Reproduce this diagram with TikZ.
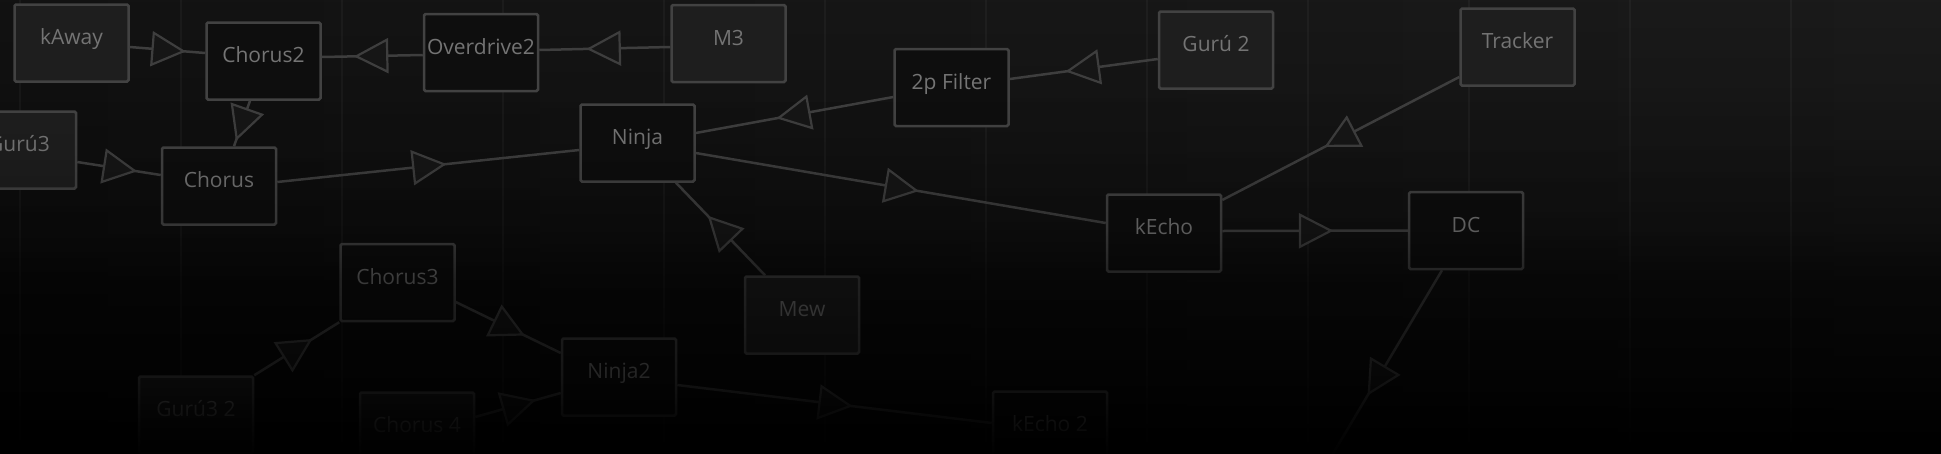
\documentclass[tikz,border=0pt]{standalone}
\usepackage{fontspec}
\setmainfont{Open Sans}
\usetikzlibrary{decorations.markings}
\definecolor{bgL}{HTML}{121212}
\definecolor{bgR}{HTML}{1B1B1B}
\definecolor{edgec}{HTML}{3E3E3E}
\definecolor{boxline}{HTML}{424242}
\definecolor{srcfill}{HTML}{1E1E1E}
\definecolor{procfill}{HTML}{0E0E0E}
\definecolor{txt}{HTML}{747474}
\definecolor{trifill}{HTML}{161616}
\newcommand\darkstrips[1]{%
  \foreach \ya/\yb/\oa/\ob in {#1} {%
    \pgfmathtruncatemacro\nn{(\yb-\ya)/2-1}%
    \foreach \k in {0,...,\nn} {%
      \pgfmathsetmacro\yy{\ya+2*\k}%
      \pgfmathsetmacro\oo{\oa+(\ob-\oa)*(2*\k+1)/(\yb-\ya)}%
      \fill[black, opacity=\oo] (0,\yy) rectangle (1941,\yy+2);
    }%
  }%
}
\begin{document}
\begin{tikzpicture}[x=1pt,y=-1pt,
  box/.style={draw=boxline, line width=2.5pt, rounded corners=1.5pt, minimum width=114pt, minimum height=77pt, inner sep=0pt, text=txt, font=\fontsize{21}{25}\selectfont, text height=12pt, text depth=9pt},
  src/.style={box, fill=srcfill},
  proc/.style={box, fill=procfill},
  gridline/.style={draw=white, opacity=0.035, line width=1.5pt},
  tri/.style={draw=edgec, line width=2.2pt, fill=trifill, line join=miter},
  flow/.style={draw=edgec, line width=2.5pt, postaction={decorate},
    decoration={markings, mark=at position 0.5 with {\draw[tri] (-15,-16) -- (16,0) -- (-15,16) -- cycle;}}}]
\useasboundingbox (0,0) rectangle (1941,453);
\clip (0,0) rectangle (1941,453);
\shade[left color=bgL, right color=bgR] (0,0) rectangle (1941,453);
\darkstrips{0/226/0/0.3, 226/454/0.3/0.6}
\foreach \gx in {20,181,...,1791} \draw[gridline] (\gx,0) -- (\gx,453);

\node[src]  (kaway)   at (71.5,43)    {kAway};
\node[proc] (chorus2) at (263.5,61)   {Chorus2};
\node[proc] (od2)     at (481,52.5)   {\makebox[0pt]{Overdrive2}};
\node[src]  (m3)      at (728.5,43.5) {M3};
\node[src]  (guru3)   at (19,150)     {Gurú3};
\node[proc] (chorus)  at (219,186)    {Chorus};
\node[proc] (ninja)   at (637.5,143)  {Ninja};
\node[proc] (filter)  at (951.5,87.5) {2p Filter};
\node[src]  (guru2)   at (1216,50)    {Gurú 2};
\node[src]  (tracker) at (1517.5,47)  {Tracker};
\node[proc] (kecho)   at (1164,233)   {kEcho};
\node[proc] (dc)      at (1466,230.5) {DC};
\node[src]  (mew)     at (802,315)    {Mew};
\node[proc] (chorus3) at (397.5,282.5) {Chorus3};
\node[proc] (ninja2)  at (619,377)    {Ninja2};
\node[src]  (guru32)  at (196,415)    {Gurú3 2};
\node[src]  (chorus4) at (417,431)    {Chorus 4};
\node[proc] (kecho2)  at (1050,430)   {kEcho 2};
\coordinate (dcout) at (1312,489);

\draw[flow] ([yshift=-4pt]kaway.east) -- ([yshift=8pt]chorus2.west);
\draw[flow] ([yshift=-2.5pt]od2.west) -- ([yshift=4pt]chorus2.east);
\draw[flow] ([yshift=-3.5pt]m3.west) -- ([yshift=2.5pt]od2.east);
\draw[flow] ([xshift=-13.5pt]chorus2.south) -- ([xshift=15pt]chorus.north);
\draw[flow] ([yshift=-12pt]guru3.east) -- ([yshift=11pt]chorus.west);
\draw[flow] ([yshift=4pt]chorus.east) -- ([yshift=-7pt]ninja.west);
\draw[flow] ([yshift=-9.5pt]filter.west) -- ([yshift=10pt]ninja.east);
\draw[flow] ([yshift=-9pt]guru2.west) -- ([yshift=8.5pt]filter.east);
\draw[flow] ([yshift=-10pt]ninja.east) -- ([yshift=10pt]kecho.west);
\draw[flow] ([yshift=-30pt]tracker.west) -- ([yshift=33pt]kecho.east);
\draw[flow] ([yshift=2pt]kecho.east) -- (dc.west);
\draw[flow] ([xshift=-37pt]mew.north) -- ([xshift=38.5pt]ninja.south);
\draw[flow] ([xshift=-24pt]dc.south) -- (dcout);
\draw[flow] (guru32.north east) -- (chorus3.south west);
\draw[flow] ([yshift=-19.5pt]chorus3.east) -- ([yshift=24pt]ninja2.west);
\draw[flow] ([yshift=14pt]chorus4.east) -- ([yshift=-16pt]ninja2.west);
\draw[flow] ([yshift=-8pt]ninja2.east) -- ([yshift=7pt]kecho2.west);

\darkstrips{100/150/0/0.05, 150/230/0.05/0.2, 230/280/0.2/0.5, 280/376/0.5/0.68, 376/416/0.68/0.86, 416/454/0.86/0.98}
\end{tikzpicture}
\end{document}
